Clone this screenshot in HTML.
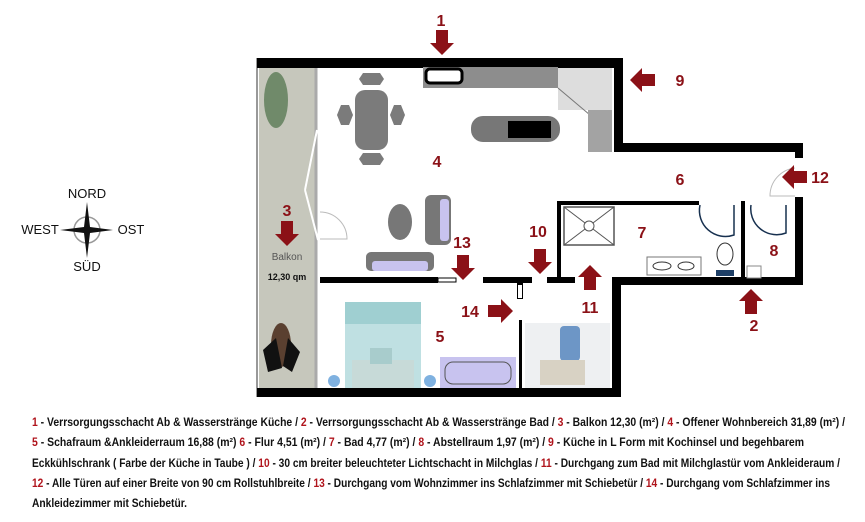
<!DOCTYPE html>
<html><head><meta charset="utf-8"><style>
html,body{margin:0;padding:0;background:#fff;width:865px;height:522px;overflow:hidden}
svg{display:block}
.n{font-family:"Liberation Sans",sans-serif;font-weight:bold;fill:#8b1117;font-size:16px}
.c{font-family:"Liberation Sans",sans-serif;font-size:13px;fill:#111}
.l{font-family:"Liberation Sans Narrow","Liberation Sans",sans-serif;font-weight:bold;font-size:11.5px;fill:#111}
.l .r{fill:#b0141c}
</style></head><body>
<svg width="865" height="522" viewBox="0 0 865 522" xmlns="http://www.w3.org/2000/svg">
<defs><g id="ad"><path d="M-6,-13 H6 V0 H12 L0,12 L-12,0 H-6 Z" fill="#8b1117"/></g></defs>
<!-- balcony -->
<rect x="257" y="58" width="63" height="339" fill="#fff"/>
<rect x="259" y="68" width="56" height="322" fill="#c6c7bc"/>
<line x1="257" y1="58" x2="257" y2="397" stroke="#999" stroke-width="2"/>
<line x1="316" y1="68" x2="316" y2="390" stroke="#aaa" stroke-width="3"/>
<ellipse cx="276" cy="100" rx="12" ry="28" fill="#5a7a55" opacity=".8"/>
<ellipse cx="281" cy="345" rx="10" ry="22" fill="#5a4030"/>
<path d="M263,350 L276,338 L282,368 L268,372Z M288,338 L300,352 L292,372 L283,366Z" fill="#111"/>
<line x1="317" y1="130" x2="305" y2="190" stroke="#fff" stroke-width="2"/>
<line x1="305" y1="190" x2="318" y2="240" stroke="#fff" stroke-width="2"/>
<!-- walls -->
<g fill="#000">
<rect x="257" y="58" width="366" height="10"/>
<rect x="614" y="58" width="9" height="94"/>
<rect x="614" y="143" width="189" height="9"/>
<rect x="795" y="143" width="8" height="15"/>
<rect x="795" y="197" width="8" height="88"/>
<rect x="612" y="277" width="191" height="8"/>
<rect x="612" y="277" width="9" height="120"/>
<rect x="257" y="388" width="364" height="9"/>
<rect x="320" y="277" width="118" height="6"/>
<rect x="483" y="277" width="49" height="6"/>
<rect x="547" y="277" width="28" height="6"/>
<rect x="557" y="201" width="4" height="80"/>
<rect x="557" y="201" width="142" height="4"/>
<rect x="741" y="201" width="4" height="80"/>
<rect x="519" y="320" width="3" height="70"/>
<rect x="517" y="283" width="6" height="16"/>
</g>
<rect x="438" y="278" width="18" height="4" fill="#fff" stroke="#000"/>
<rect x="518" y="285" width="4" height="13" fill="#fff"/>
<!-- doors -->
<path d="M320,212 A27,27 0 0 1 347,239 L320,239" fill="none" stroke="#bbb"/>
<path d="M795,168 A28,28 0 0 0 770,196 L795,196" fill="none" stroke="#bbb"/>
<path d="M700,205 A26,26 0 0 0 734,235 L734,205" fill="none" stroke="#17304f" stroke-width="1.5"/>
<path d="M751,205 A26,26 0 0 0 786,233 L786,205" fill="none" stroke="#17304f" stroke-width="1.5"/>
<!-- kitchen -->
<rect x="423" y="67" width="135" height="21" fill="#8d8d8d"/>
<rect x="426" y="69" width="36" height="14" rx="4" fill="#fff" stroke="#000" stroke-width="3"/>
<rect x="558" y="68" width="54" height="42" fill="#ddd"/>
<path d="M558,88 L590,115" stroke="#777"/>
<rect x="588" y="110" width="24" height="42" fill="#a3a3a3"/>
<rect x="471" y="116" width="89" height="26" rx="12" fill="#777"/>
<rect x="508" y="121" width="43" height="17" fill="#000"/>
<rect x="355" y="90" width="33" height="60" rx="10" fill="#7b7b7b"/>
<g fill="#7b7b7b">
<path d="M363,73 H380 L384,79 L380,85 H363 L359,79Z"/>
<path d="M363,153 H380 L384,159 L380,165 H363 L359,159Z"/>
<path d="M341,105 H349 L353,115 L349,125 H341 L337,115Z"/>
<path d="M394,105 H401 L405,115 L401,125 H394 L390,115Z"/>
</g>
<ellipse cx="400" cy="222" rx="12" ry="18" fill="#777"/>
<rect x="425" y="195" width="26" height="50" rx="6" fill="#777"/>
<rect x="440" y="199" width="9" height="42" rx="3" fill="#c8c3ef"/>
<rect x="366" y="252" width="68" height="19" rx="5" fill="#777"/>
<rect x="372" y="261" width="56" height="10" rx="3" fill="#c8c3ef"/>
<!-- bedroom -->
<rect x="345" y="302" width="76" height="86" fill="#bfe0e2"/>
<rect x="345" y="302" width="76" height="22" fill="#9fcfd1"/>
<rect x="352" y="360" width="62" height="28" fill="#c7dad8"/>
<rect x="370" y="348" width="22" height="16" fill="#a8cccc"/>
<circle cx="334" cy="381" r="6" fill="#7fb1e0"/>
<circle cx="430" cy="381" r="6" fill="#7fb1e0"/>
<rect x="440" y="357" width="76" height="31" fill="#c8c3ef"/>
<rect x="445" y="362" width="66" height="22" rx="8" fill="#c8c3ef" stroke="#555"/>
<rect x="525" y="323" width="85" height="65" fill="#eef0f2"/>
<rect x="560" y="326" width="20" height="35" rx="4" fill="#6d96c6"/>
<rect x="540" y="360" width="45" height="25" fill="#d8d2c4"/>
<!-- bath -->
<rect x="564" y="207" width="50" height="38" fill="#fff" stroke="#555" stroke-width="1.5"/>
<path d="M564,207 L614,245 M614,207 L564,245" stroke="#555"/>
<circle cx="589" cy="226" r="5" fill="#fff" stroke="#555"/>
<rect x="647" y="257" width="54" height="18" fill="#fff" stroke="#777"/>
<ellipse cx="662" cy="266" rx="9" ry="4" fill="none" stroke="#333"/>
<ellipse cx="686" cy="266" rx="8" ry="4" fill="none" stroke="#333"/>
<ellipse cx="725" cy="254" rx="8" ry="11" fill="#fff" stroke="#333"/>
<rect x="716" y="270" width="18" height="6" fill="#1e3f66"/>
<rect x="747" y="266" width="14" height="12" fill="#fff" stroke="#888"/>
<!-- arrows -->
<use href="#ad" x="442" y="43"/>
<use href="#ad" x="287" y="234"/>
<use href="#ad" x="463" y="268"/>
<use href="#ad" x="540" y="262"/>
<use href="#ad" transform="translate(590,277) rotate(180)"/>
<use href="#ad" transform="translate(751,301) rotate(180)"/>
<use href="#ad" transform="translate(642,80) rotate(90)"/>
<use href="#ad" transform="translate(794,177) rotate(90)"/>
<use href="#ad" transform="translate(501,311) rotate(-90)"/>
<!-- labels -->
<text class="n" x="441" y="26" text-anchor="middle">1</text>
<text class="n" x="680" y="86" text-anchor="middle">9</text>
<text class="n" x="820" y="183" text-anchor="middle">12</text>
<text class="n" x="680" y="185" text-anchor="middle">6</text>
<text class="n" x="437" y="167" text-anchor="middle">4</text>
<text class="n" x="287" y="216" text-anchor="middle">3</text>
<text class="n" x="642" y="238" text-anchor="middle">7</text>
<text class="n" x="774" y="256" text-anchor="middle">8</text>
<text class="n" x="538" y="237" text-anchor="middle">10</text>
<text class="n" x="462" y="248" text-anchor="middle">13</text>
<text class="n" x="590" y="313" text-anchor="middle">11</text>
<text class="n" x="754" y="331" text-anchor="middle">2</text>
<text class="n" x="470" y="317" text-anchor="middle">14</text>
<text class="n" x="440" y="342" text-anchor="middle">5</text>
<text x="287" y="260" text-anchor="middle" font-family="Liberation Sans Narrow,Liberation Sans,sans-serif" font-size="10" fill="#555">Balkon</text>
<text x="287" y="280" text-anchor="middle" font-family="Liberation Sans,sans-serif" font-size="9" font-weight="bold" fill="#111">12,30 qm</text>
<!-- compass -->
<circle cx="87" cy="230" r="13" fill="none" stroke="#999" stroke-width="1.5"/>
<path d="M87,202 L90,227 L87,230 L84,227Z M87,258 L90,233 L87,230 L84,233Z M60,230 L84,227 L87,230 L84,233Z M113,230 L90,227 L87,230 L90,233Z" fill="#111"/>
<text class="c" x="87" y="198" text-anchor="middle">NORD</text>
<text class="c" x="40" y="234" text-anchor="middle">WEST</text>
<text class="c" x="131" y="234" text-anchor="middle">OST</text>
<text class="c" x="87" y="271" text-anchor="middle">SÜD</text>
<!-- legend -->
<text class="l" x="32" y="426" textLength="813" lengthAdjust="spacingAndGlyphs"><tspan class="r">1</tspan> - Verrsorgungsschacht Ab &amp; Wasserstränge Küche / <tspan class="r">2</tspan> - Verrsorgungsschacht Ab &amp; Wasserstränge Bad  / <tspan class="r">3</tspan> - Balkon 12,30  (m²) / <tspan class="r">4</tspan> - Offener Wohnbereich  31,89  (m²) /</text>
<text class="l" x="32" y="446" textLength="772" lengthAdjust="spacingAndGlyphs"><tspan class="r">5</tspan> - Schafraum &amp;Ankleiderraum 16,88  (m²)  <tspan class="r">6</tspan> - Flur 4,51 (m²) / <tspan class="r">7</tspan> - Bad 4,77 (m²) / <tspan class="r">8</tspan> - Abstellraum 1,97  (m²) /  <tspan class="r">9</tspan> - Küche in L Form mit Kochinsel und begehbarem</text>
<text class="l" x="32" y="467" textLength="808" lengthAdjust="spacingAndGlyphs">Eckkühlschrank ( Farbe der Küche in Taube ) / <tspan class="r">10</tspan> - 30 cm breiter beleuchteter  Lichtschacht in Milchglas / <tspan class="r">11</tspan> - Durchgang zum Bad mit Milchglastür vom Ankleideraum /</text>
<text class="l" x="32" y="487" textLength="798" lengthAdjust="spacingAndGlyphs"><tspan class="r">12</tspan> - Alle Türen auf einer Breite von 90 cm Rollstuhlbreite / <tspan class="r">13</tspan> - Durchgang vom Wohnzimmer ins Schlafzimmer mit Schiebetür / <tspan class="r">14</tspan> - Durchgang vom Schlafzimmer ins</text>
<text class="l" x="32" y="507" textLength="155" lengthAdjust="spacingAndGlyphs">Ankleidezimmer mit Schiebetür.</text>
</svg>
</body></html>
